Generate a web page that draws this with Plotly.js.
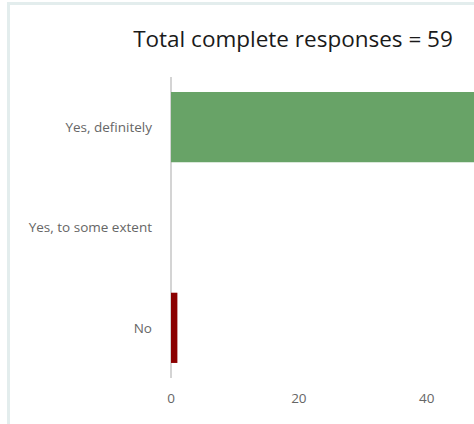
<!DOCTYPE html>
<html>
<head>
<meta charset="utf-8">
<script src="https://cdn.plot.ly/plotly-3.0.1.min.js"></script>
<style>
html, body { margin: 0; padding: 0; width: 474px; height: 424px; overflow: hidden; background: #fff; }
#frame { position: absolute; left: 7px; top: 2px; width: 600px; height: 460px; border-left: 3px solid #e3eded; border-top: 3px solid #e3eded; }
#chart { position: absolute; left: 0; top: 0; width: 566px; height: 440px; }
</style>
</head>
<body>
<div id="frame"><div id="chart"></div></div>
<script>
const categories = ["Yes, definitely", "Yes, to some extent", "No"];
const counts = [58, 0, 1];
const barColors = ["#68a367", "#68a367", "#8b0000"];
const titleText = "Total complete responses = 59";
const xTickVals = [0, 20, 40];

const trace = {
  type: "bar",
  orientation: "h",
  y: categories,
  x: counts,
  marker: { color: barColors },
  hoverinfo: "none"
};

const layout = {
  width: 566,
  height: 440,
  margin: { l: 161, r: 15, t: 72, b: 67 },
  paper_bgcolor: "#ffffff",
  plot_bgcolor: "#ffffff",
  bargap: 0.3,
  showlegend: false,
  font: { family: "'Open Sans', Lato, sans-serif", color: "#666666", size: 13.5 },
  title: {
    text: titleText,
    font: { family: "'Open Sans', Lato, sans-serif", size: 22.5, color: "#1a1a1a" },
    x: 0.5, xanchor: "center",
    y: 0.922, yref: "container", yanchor: "middle"
  },
  xaxis: {
    range: [0, 61],
    tickvals: xTickVals,
    showgrid: false,
    zeroline: true,
    zerolinecolor: "#d4d4d4",
    zerolinewidth: 1.5,
    showline: false,
    ticks: "",
    ticklabelstandoff: 10,
    tickfont: { size: 13.5, color: "#666666" },
    fixedrange: true
  },
  yaxis: {
    autorange: "reversed",
    type: "category",
    showgrid: false,
    zeroline: false,
    showline: false,
    ticks: "",
    ticklabelstandoff: 18,
    tickfont: { size: 13.5, color: "#666666" },
    fixedrange: true
  }
};

Plotly.newPlot("chart", [trace], layout, { displayModeBar: false, staticPlot: true });
</script>
</body>
</html>
